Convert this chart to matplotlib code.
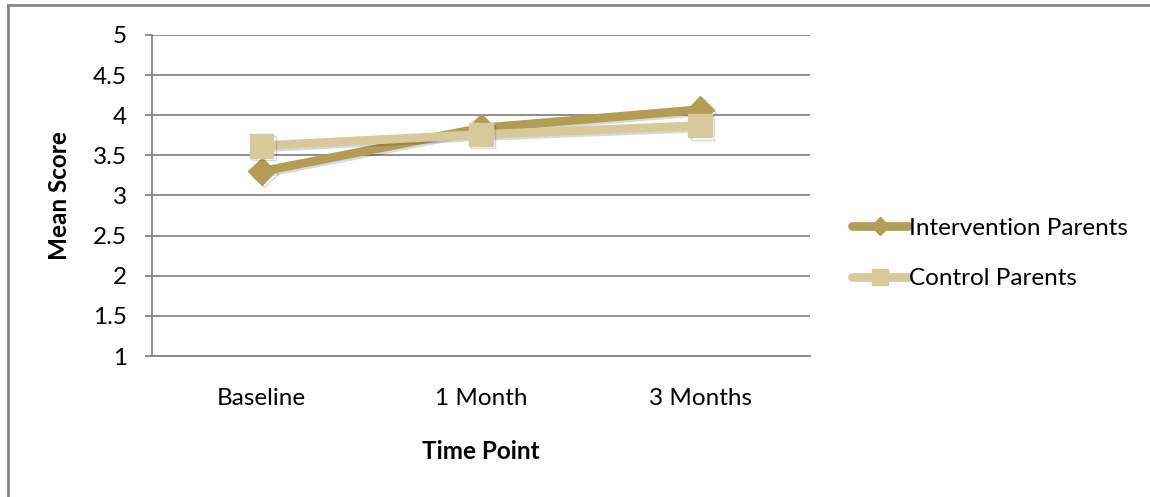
import matplotlib
matplotlib.use("Agg")
import matplotlib.pyplot as plt
from matplotlib.lines import Line2D
import matplotlib.patheffects as pe

plt.rcParams['font.family'] = ['Lato', 'DejaVu Sans']

time_points = ["Baseline", "1 Month", "3 Months"]
intervention = [3.30, 3.84, 4.07]
control = [3.62, 3.76, 3.87]
y_ticks = [1, 1.5, 2, 2.5, 3, 3.5, 4, 4.5, 5]
y_tick_labels = ["1", "1.5", "2", "2.5", "3", "3.5", "4", "4.5", "5"]

c_int = "#B39D54"
c_ctl = "#D7C99A"
grid_c = "#868686"

fig = plt.figure(figsize=(11.5, 4.97), dpi=100)
ax = fig.add_axes([0.1322, 0.2837, 0.5721, 0.6459])

x = list(range(len(time_points)))
shadow = [pe.SimpleLineShadow(offset=(1.5, -1.5), alpha=0.15, shadow_color="black"), pe.Normal()]
ax.plot(x, intervention, color=c_int, lw=6.3, marker="D", markersize=14,
        solid_capstyle="round", zorder=3, path_effects=shadow)
ax.plot(x, control, color=c_ctl, lw=6.3, marker="s", markersize=17,
        solid_capstyle="round", zorder=4, path_effects=shadow)

ax.set_xlim(-0.5, 2.5)
ax.set_ylim(1, 5)
ax.set_yticks(y_ticks)
ax.set_yticklabels(y_tick_labels)
ax.set_xticks(x)
ax.set_xticklabels(time_points)
ax.yaxis.grid(True, color=grid_c, lw=1.3)
ax.set_axisbelow(True)
for s in ["top", "right"]:
    ax.spines[s].set_visible(False)
ax.spines["left"].set_color(grid_c)
ax.spines["left"].set_linewidth(1.3)
ax.spines["bottom"].set_color(grid_c)
ax.spines["bottom"].set_linewidth(1.3)
ax.tick_params(axis="y", length=5, width=1.3, color=grid_c, labelsize=17.5, pad=13)
ax.tick_params(axis="x", length=0, labelsize=17.5, pad=23)

ax.set_ylabel("Mean Score", fontsize=17.5, fontweight="bold", labelpad=16)
ax.set_xlabel("Time Point", fontsize=17.5, fontweight="bold", labelpad=22)

handles = [
    Line2D([], [], color=c_int, lw=6.3, marker="D", markersize=9, solid_capstyle="round"),
    Line2D([], [], color=c_ctl, lw=6.3, marker="s", markersize=12, solid_capstyle="round"),
]
fig.legend(handles, ["Intervention Parents", "Control Parents"],
           loc="center left", bbox_to_anchor=(0.722, 0.490), frameon=False,
           fontsize=17.5, handlelength=2.3, handletextpad=0.05, labelspacing=1.2)

# outer chart frame (top and left edges visible)
fig.add_artist(Line2D([8 / 1150, 8 / 1150], [0, 1 - 5 / 497], transform=fig.transFigure,
                      color="#878787", lw=2))
fig.add_artist(Line2D([8 / 1150, 1], [1 - 5 / 497, 1 - 5 / 497], transform=fig.transFigure,
                      color="#878787", lw=2))

fig.savefig("out.png", dpi=100)
